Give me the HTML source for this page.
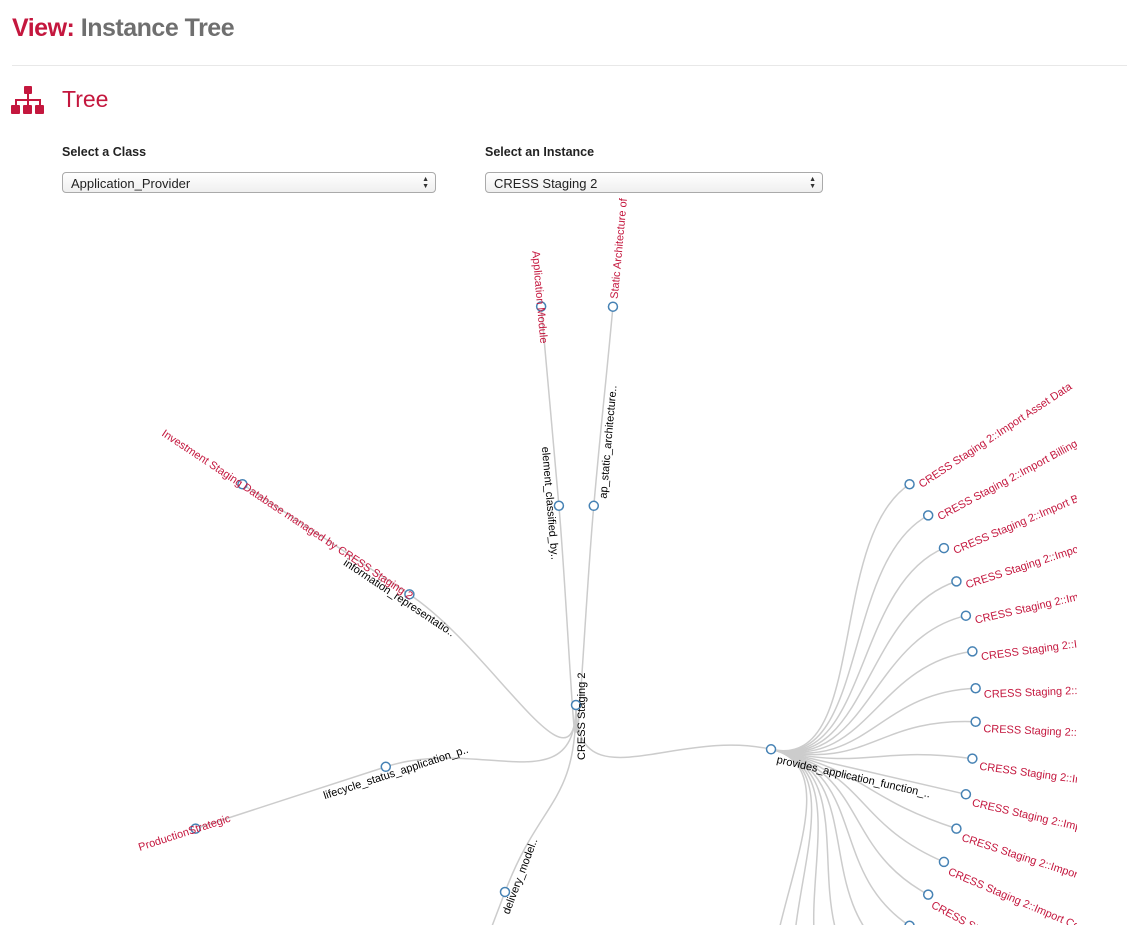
<!DOCTYPE html>
<html><head><meta charset="utf-8">
<style>
body{margin:0;background:#fff;font-family:"Liberation Sans",sans-serif;width:1127px;height:925px;overflow:hidden;position:relative}
.title{position:absolute;left:12px;top:14px;font-size:25px;font-weight:bold;letter-spacing:-0.5px}
.title .v{color:#c4173e}.title .t{color:#6f6f6f}
.hr{position:absolute;left:12px;top:65px;width:1115px;height:1px;background:#e8e8e8}
.h2{position:absolute;left:62px;top:86px;font-size:23px;color:#c4173e}
.lbl{position:absolute;top:145px;font-size:12.5px;font-weight:bold;color:#222}
.sel{position:absolute;top:172px;height:21px;border:1px solid #aaa;border-radius:4px;background:linear-gradient(#fff,#efefef);font-size:13px;line-height:21px;padding-left:8px;box-sizing:border-box;color:#222}
.sel .ar{position:absolute;right:6px;top:3px;font-size:7px;line-height:7px;color:#333}
svg{position:absolute;left:0;top:0}
</style></head><body>
<div class="title"><span class="v">View:</span> <span class="t">Instance Tree</span></div>
<div class="hr"></div>
<svg width="34" height="30" style="left:11px;top:86px">
<g fill="#c4173e"><rect x="13" y="0" width="8" height="8" rx="1"/><rect x="16" y="8" width="2" height="6"/><rect x="4" y="13" width="26" height="2"/><rect x="4" y="13" width="2" height="6"/><rect x="16" y="13" width="2" height="6"/><rect x="28" y="13" width="2" height="6"/><rect x="0" y="19" width="9" height="9" rx="1"/><rect x="12" y="19" width="9" height="9" rx="1"/><rect x="24" y="19" width="9" height="9" rx="1"/></g></svg>
<div class="h2">Tree</div>
<div class="lbl" style="left:62px">Select a Class</div>
<div class="lbl" style="left:485px">Select an Instance</div>
<div class="sel" style="left:62px;width:374px">Application_Provider<span class="ar">▲<br>▼</span></div>
<div class="sel" style="left:485px;width:338px">CRESS Staging 2<span class="ar">▲<br>▼</span></div>
<svg id="tree" width="1077" height="925"></svg>
<script>
// depth-1 relations: name, screen angle (deg)
const relNames = ["provides_application_function_..","element_classified_by..","ap_static_architecture..","information_representatio..","lifecycle_status_application_p..","delivery_model.."];
const relAngles = [12.8,-94.9,-84.9,-146.4,162,110.8];
// leaves: parent index, name, angle
const leafParent = [1,2,3,4,5];
const leafNames = ["Application Module","Static Architecture of","Investment Staging Database managed by CRESS Staging 2","ProductionStrategic","Client Server"];
const leafAngles = [-95,-84.7,-146.5,162,110.8];
const funcNames = ["Import Asset Data","Import Billing Account","Import Broker","Import Claims","Import Policy","Import Invoices","Import Agents","Import Quotes","Import Rates","Import Products","Import Accounts","Import Contacts","Import Portfolio","Import Staff","Import Orders","Import Payments","Import Renewals","Import Cases","Import Events"];
const funcAngles = [-33.5,-28.3,-23.1,-18,-12.9,-7.7,-2.4,2.4,7.7,12.9,18,23.1,28.3,33.5,38.6,43.8,48.9,54.1,59.2];
const rootName = "CRESS Staging 2";
const rootAngle = 90;

const CX=576, CY=705, R1=200, R2=400;
const NS="http://www.w3.org/2000/svg";
const svg=document.getElementById('tree');
function P(a,r){const t=a*Math.PI/180;return [CX+r*Math.cos(t),CY+r*Math.sin(t)];}
function mk(tag,attrs){const e=document.createElementNS(NS,tag);for(const k in attrs)e.setAttribute(k,attrs[k]);return e;}
const gL=mk('g',{}),gN=mk('g',{});
svg.appendChild(gL);svg.appendChild(gN);
function link(a0,r0,a1,r1){
  const m=(r0+r1)/2,p0=P(a0,r0),p1=P(a0,m),p2=P(a1,m),p3=P(a1,r1);
  const e=mk('path',{d:`M${p0}C${p1} ${p2} ${p3}`,fill:'none',stroke:'#ccc','stroke-width':1.5});
  
  
  gL.appendChild(e);
}
function node(a,r,label,color,shift,dy){
  const p=P(a,r);
  const c=mk('circle',{cx:p[0],cy:p[1],r:4.5,fill:'#fff',stroke:'#4682b4','stroke-width':1.5});
  
  
  gN.appendChild(c);
  let na=((a%360)+360)%360;
  const flip=na>90&&na<270;
  const rot=flip?a+180:a;
  const t=mk('text',{transform:`translate(${p[0]},${p[1]}) rotate(${rot})`,x:flip?-shift:8,dy:dy,'font-size':11,fill:color,'font-family':'"Liberation Sans",sans-serif'});
  t.textContent=label;
  
  
  gN.appendChild(t);
}
// label shifts (outward start for flipped labels) - layout only
const relShift=[0,60,0,72,68,20];
const leafShift=[56,0,95,60,60];
relAngles.forEach((a,i)=>link(rootAngle,0,a,R1));
leafAngles.forEach((a,i)=>link(relAngles[leafParent[i]],R1,a,R2));
funcAngles.forEach(a=>link(relAngles[0],R1,a,R2));
relAngles.forEach((a,i)=>node(a,R1,relNames[i],'#000',relShift[i],12));
leafAngles.forEach((a,i)=>node(a,R2,leafNames[i],'#c4173e',leafShift[i],4));
funcAngles.forEach((a,i)=>node(a,R2,'CRESS Staging 2::'+funcNames[i],'#c4173e',0,10));
// root
const rc=mk('circle',{cx:CX,cy:CY,r:4.5,fill:'#fff',stroke:'#4682b4','stroke-width':1.5});


gN.appendChild(rc);
const rt=mk('text',{transform:`translate(${CX},${CY}) rotate(-90)`,x:-55,dy:9,'font-size':11,fill:'#000'});
rt.textContent=rootName;


gN.appendChild(rt);
</script>
</body></html>
